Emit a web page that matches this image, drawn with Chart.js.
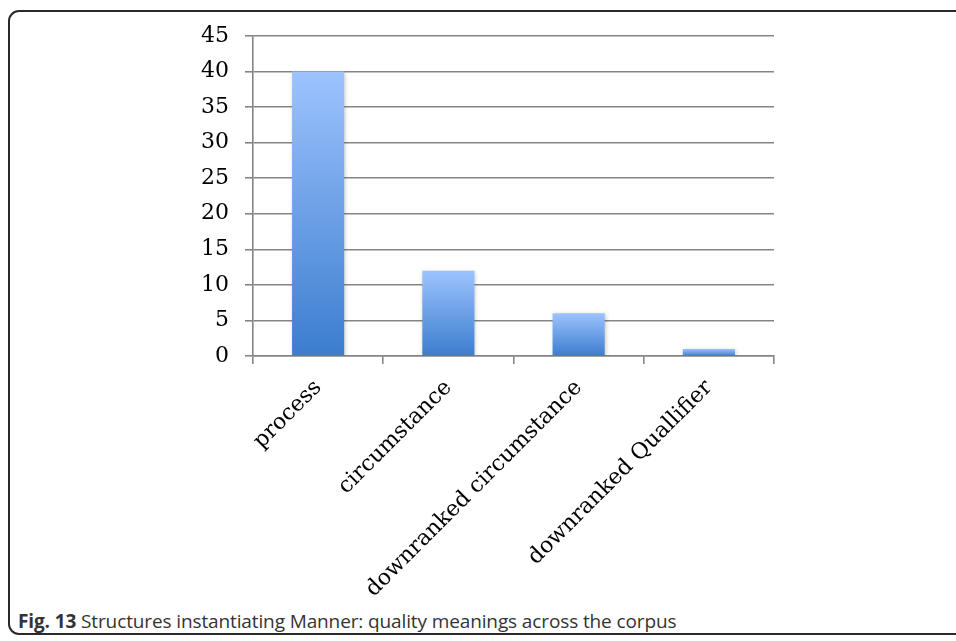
<!DOCTYPE html>
<html>
<head>
<meta charset="utf-8">
<script src="https://cdn.jsdelivr.net/npm/chart.js@4/dist/chart.umd.min.js"></script>
<style>
  html, body { margin: 0; padding: 0; background: #fff; width: 956px; height: 641px; overflow: hidden; }
  #frame { position: absolute; left: 8px; top: 10px; width: 980px; height: 625px; border: 2px solid #2a2a2a; border-radius: 11px; box-sizing: border-box; }
  #wrap { position: absolute; left: 0; top: 0; width: 956px; height: 600px; }
  #caption { position: absolute; left: 18px; top: 608px; font-family: "Open Sans", "Noto Sans", sans-serif; font-size: 19px; color: #333; white-space: nowrap; letter-spacing: -0.12px; }
  #caption b { color: #333; }
</style>
</head>
<body>
<div id="frame"></div>
<div id="wrap"><canvas id="c" width="956" height="600"></canvas></div>
<div id="caption"><b>Fig. 13</b> Structures instantiating Manner: quality meanings across the corpus</div>
<script>
const categories = ["process", "circumstance", "downranked circumstance", "downranked Quallifier"];
const values = [40, 12, 6, 1];
const yTicks = [0, 5, 10, 15, 20, 25, 30, 35, 40, 45];

function barGradient(context) {
  const chart = context.chart;
  if (!chart.chartArea || context.dataIndex === undefined) return '#6A9FE6';
  const y = chart.scales.y;
  const v = context.raw;
  const top = y.getPixelForValue(v);
  const bottom = y.getPixelForValue(0);
  const g = chart.ctx.createLinearGradient(0, top, 0, bottom);
  g.addColorStop(0, '#9DC3FE');
  g.addColorStop(1, '#3C7DCE');
  return g;
}

const barShadow = {
  id: 'barShadow',
  beforeDatasetDraw(chart) {
    const c = chart.ctx;
    c.save();
    c.shadowColor = 'rgba(0,0,0,0.22)';
    c.shadowBlur = 4;
    c.shadowOffsetX = 1;
    c.shadowOffsetY = 1;
  },
  afterDatasetDraw(chart) {
    chart.ctx.restore();
  }
};

new Chart(document.getElementById('c'), {
  type: 'bar',
  data: {
    labels: categories,
    datasets: [{
      data: values,
      backgroundColor: barGradient,
      borderWidth: 0,
      barPercentage: 0.4,
      categoryPercentage: 1.0
    }]
  },
  plugins: [barShadow],
  options: {
    responsive: false,
    animation: false,
    layout: { padding: { top: 36, right: 182, left: 0, bottom: 0 } },
    plugins: { legend: { display: false }, tooltip: { enabled: false } },
    scales: {
      x: {
        offset: true,
        grid: { offset: true, drawOnChartArea: false, drawTicks: true, tickLength: 8, color: '#858585', lineWidth: 1.6 },
        border: { color: '#858585', width: 1.6 },
        ticks: { maxRotation: 45, minRotation: 45, padding: 11, color: '#000', font: { family: 'DejaVu Serif', size: 22 } },
        afterFit: s => { s.height = 244; }
      },
      y: {
        min: 0, max: 45,
        afterBuildTicks: s => { s.ticks = yTicks.map(v => ({ value: v })); },
        grid: { color: '#858585', lineWidth: 1.6, tickLength: 8, drawTicks: true },
        border: { color: '#858585', width: 1.6 },
        ticks: { padding: 16, color: '#000', font: { family: 'DejaVu Serif', size: 22 } },
        afterFit: s => { s.width = 253; }
      }
    }
  }
});
</script>
</body>
</html>
